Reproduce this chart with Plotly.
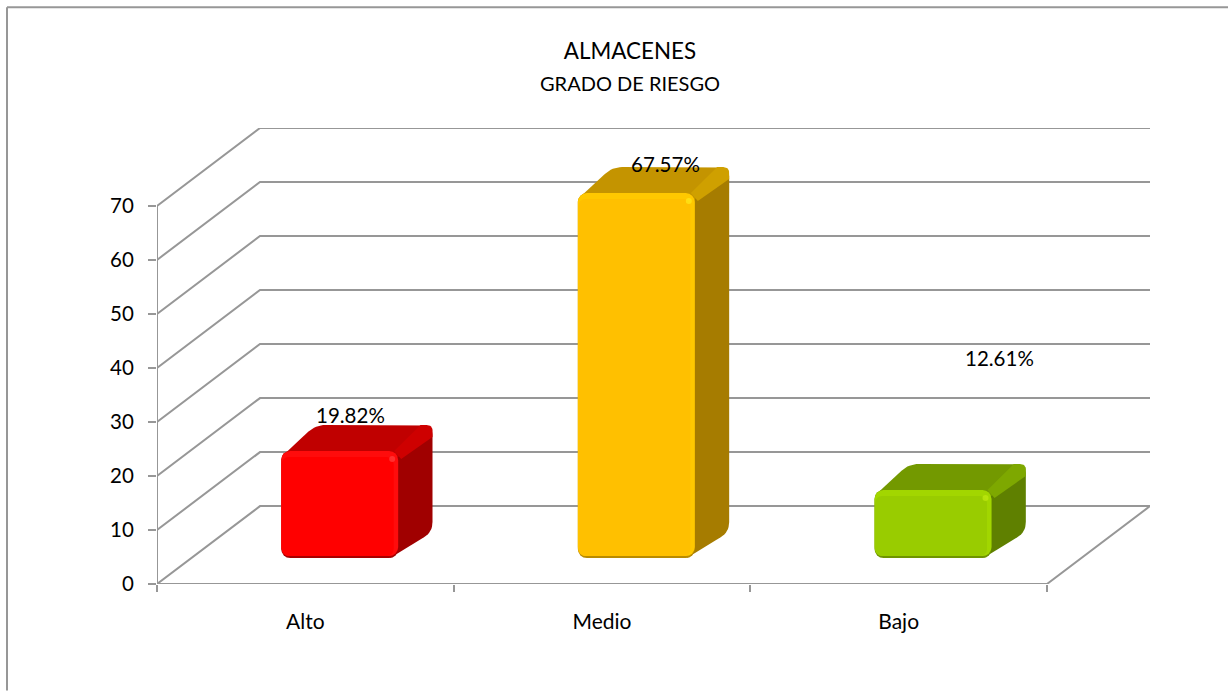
import plotly.graph_objects as go

categories = ["Alto", "Medio", "Bajo"]
values = [19.82, 67.57, 12.61]
value_labels = ["19.82%", "67.57%", "12.61%"]
y_ticks = [0, 10, 20, 30, 40, 50, 60, 70]

front_colors = ["#FF0000", "#FFC000", "#99CC00"]
rim_colors = ["#FF0C0C", "#FFC800", "#A2D600"]
shadow_colors = ["#A80000", "#B98B00", "#6F9400"]
top_colors = ["#C00000", "#C49400", "#739900"]
top_rim_colors = ["#CE0000", "#CFA000", "#7EA800"]
side_colors = ["#A00000", "#A67C00", "#5F8000"]
spot_colors = ["#FF4040", "#FFE81A", "#C0EA10"]
label_shift_x = [11, 29, 66]
label_shift_y = [36, 29, 132]

W, H = 1228, 691
L, R, T, B = 157, 1150, 128, 584.5
PX_X = (1047 - 157) / 3.0
PX_Y = (B - T) / 84.42
DEPTH_X = 103 / PX_X
DEPTH_Y = 84.42 - 70
X_RANGE = [-0.5, 2.5 + DEPTH_X]
Y_RANGE = [0, 70 + DEPTH_Y]
BAR_W = 117 / PX_X
GRID = "#979797"
FONT = "Lato"


def px(v):
    return v / PX_X


def py(v):
    return v / PX_Y


def paper_x(v):
    return (v - L) / (R - L)


def paper_y(v):
    return (B - v) / (B - T)


def rounded(points, radii):
    """Round the corners of a polygon (data units) with radii given in pixels."""
    out_x, out_y = [], []
    n = len(points)
    for i in range(n):
        p0, p1, p2 = points[i - 1], points[i], points[(i + 1) % n]
        r = radii[i]
        ax, ay = (p0[0] - p1[0]) * PX_X, (p0[1] - p1[1]) * PX_Y
        bx, by = (p2[0] - p1[0]) * PX_X, (p2[1] - p1[1]) * PX_Y
        la, lb = (ax * ax + ay * ay) ** 0.5, (bx * bx + by * by) ** 0.5
        ra, rb = min(r, la / 2) / la, min(r, lb / 2) / lb
        for k in range(9):
            t = k / 8
            cx = (1 - t) ** 2 * ax * ra + t ** 2 * bx * rb
            cy = (1 - t) ** 2 * ay * ra + t ** 2 * by * rb
            out_x.append(p1[0] + cx / PX_X)
            out_y.append(p1[1] + cy / PX_Y)
    out_x.append(out_x[0])
    out_y.append(out_y[0])
    return out_x, out_y


fig = go.Figure()
gl = dict(mode="lines", line=dict(color=GRID, width=2), hoverinfo="skip", showlegend=False)
left, right = X_RANGE[0], 2.5

# walls and floor
for v in y_ticks:
    fig.add_trace(go.Scatter(
        x=[left, left + DEPTH_X, right + DEPTH_X],
        y=[v, v + DEPTH_Y, v + DEPTH_Y], **gl))
fig.add_trace(go.Scatter(x=[left, left], y=[y_ticks[0], y_ticks[-1]], **gl))
fig.add_trace(go.Scatter(x=[left, right, right + DEPTH_X], y=[0, 0, DEPTH_Y], **gl))

# bars: top and side faces below, front faces above
f = 1 / 3.0
dpx, dpy = DEPTH_X * f, DEPTH_Y * f
base = dpy
for i, v in enumerate(values):
    x0 = i + dpx - BAR_W / 2
    x1 = i + dpx + BAR_W / 2
    top = base + v
    poly = dict(mode="lines", fill="toself", line=dict(width=0), hoverinfo="skip",
                showlegend=False, xaxis="x2", yaxis="y2")
    sx, sy = rounded([(x1 - px(8), top), (x1 + dpx, top + dpy), (x1 + dpx, base + dpy), (x1 - px(8), base)],
                     [0, 9, 10, 0])
    fig.add_trace(go.Scatter(x=sx, y=sy, fillcolor=side_colors[i], **poly))
    tx, ty = rounded([(x0, top - py(6)), (x0 + dpx, top + dpy), (x1 + dpx, top + dpy), (x1, top - py(6))],
                     [6, 10, 10, 0])
    fig.add_trace(go.Scatter(x=tx, y=ty, fillcolor=top_colors[i], **poly))
    rx, ry = rounded([(x1 - px(4), top), (x1 + dpx - px(12), top + dpy), (x1 + dpx, top + dpy),
                      (x1 + dpx, top + dpy - py(12)), (x1 + px(3), top - py(8))],
                     [0, 0, 10, 0, 0])
    fig.add_trace(go.Scatter(x=rx, y=ry, fillcolor=top_rim_colors[i], **poly))

centers = [i + dpx for i in range(len(values))]
front = dict(xaxis="x3", yaxis="y3", hoverinfo="skip", showlegend=False)
fig.add_trace(go.Bar(x=centers, y=values, base=[base] * 3, width=BAR_W,
                     marker=dict(color=shadow_colors, line=dict(width=0), cornerradius=9), **front))
fig.add_trace(go.Bar(x=centers, y=[v - py(2) for v in values], base=[base + py(2)] * 3, width=BAR_W,
                     marker=dict(color=rim_colors, line=dict(width=0), cornerradius=9), **front))
fig.add_trace(go.Bar(x=[c - px(2) for c in centers], y=[v - py(8) for v in values],
                     base=[base + py(2)] * 3, width=BAR_W - px(5),
                     marker=dict(color=front_colors, line=dict(width=0), cornerradius=7), **front))
fig.add_trace(go.Scatter(
    x=[c + BAR_W / 2 - px(6) for c in centers], y=[base + v - py(8) for v in values],
    mode="markers", marker=dict(size=6, color=spot_colors, opacity=0.7, line=dict(width=0)),
    hoverinfo="skip", showlegend=False, xaxis="x3", yaxis="y3"))

# value labels
annots = []
for i, v in enumerate(values):
    annots.append(dict(x=centers[i], y=base + v, xref="x3", yref="y3", text=value_labels[i], showarrow=False,
                       xshift=label_shift_x[i], yshift=label_shift_y[i], yanchor="middle", xanchor="center",
                       font=dict(family=FONT, size=20.5, color="#000000")))
annots.append(dict(x=paper_x(630), y=paper_y(83), xref="paper", yref="paper", text="GRADO DE RIESGO",
                   showarrow=False, xanchor="center", yanchor="middle",
                   font=dict(family=FONT, size=20, color="#000000")))

shapes = [
    dict(type="line", xref="paper", yref="paper", x0=paper_x(7), x1=paper_x(7), y0=paper_y(7), y1=paper_y(H),
         line=dict(color=GRID, width=2)),
    dict(type="line", xref="paper", yref="paper", x0=paper_x(7), x1=paper_x(W), y0=paper_y(7), y1=paper_y(7),
         line=dict(color=GRID, width=2)),
]

hidden = dict(visible=False, fixedrange=True)
fig.update_layout(
    width=W, height=H, autosize=False,
    margin=dict(l=L, r=W - R, t=T, b=H - B, pad=0),
    paper_bgcolor="#FFFFFF", plot_bgcolor="rgba(0,0,0,0)",
    barmode="overlay", showlegend=False, hovermode=False,
    title=dict(text="ALMACENES", x=630 / W, xref="container", xanchor="center",
               y=1 - 51 / H, yref="container", yanchor="middle",
               font=dict(family=FONT, size=22.4, color="#000000")),
    xaxis=dict(range=X_RANGE, tickvals=[0, 1, 2], ticktext=categories, showgrid=False, zeroline=False,
               showline=False, ticks="", ticklabelstandoff=23,
               tickfont=dict(family=FONT, size=21, color="#000000"),
               minor=dict(tickvals=[-0.5, 0.5, 1.5, 2.5], ticks="outside", ticklen=7, tickwidth=2,
                          tickcolor=GRID, showgrid=False)),
    yaxis=dict(range=Y_RANGE, tickvals=y_ticks, showgrid=False, zeroline=False, showline=False,
               ticks="outside", ticklen=8, tickwidth=2, tickcolor=GRID, ticklabelstandoff=10,
               tickfont=dict(family=FONT, size=20.5, color="#000000")),
    xaxis2=dict(range=X_RANGE, overlaying="x", anchor="y2", **hidden),
    yaxis2=dict(range=Y_RANGE, overlaying="y", anchor="x2", **hidden),
    xaxis3=dict(range=X_RANGE, overlaying="x", anchor="y3", **hidden),
    yaxis3=dict(range=Y_RANGE, overlaying="y", anchor="x3", **hidden),
    annotations=annots, shapes=shapes,
)

fig.write_html("out.html", config={"displayModeBar": False},
               post_script="document.body.style.margin='0';document.body.style.overflow='hidden';")
